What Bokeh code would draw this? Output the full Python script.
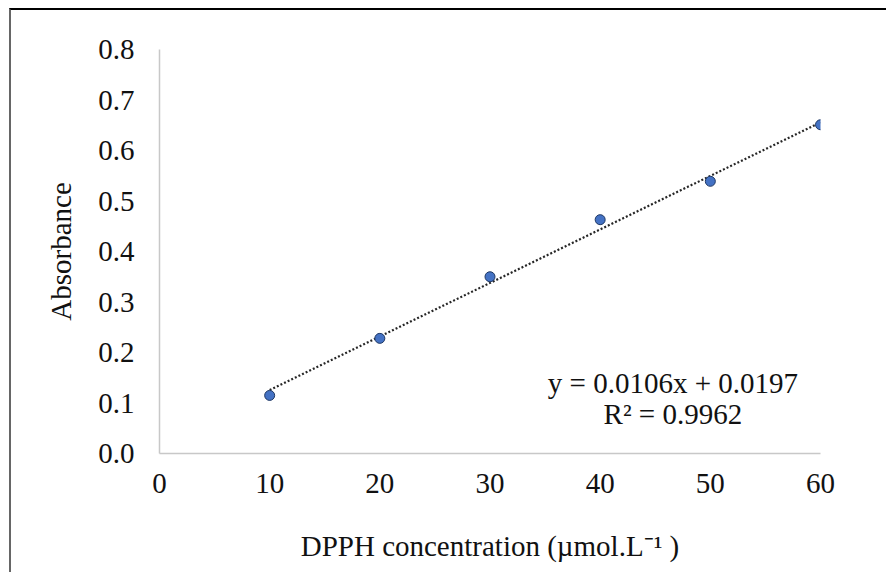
from bokeh.plotting import figure
from bokeh.models import Range1d, FixedTicker, Label, ColumnDataSource
from bokeh.embed import file_html
from bokeh.resources import INLINE

conc = [10, 20, 30, 40, 50, 60]
absorbance = [0.115, 0.228, 0.350, 0.463, 0.539, 0.651]
slope = 0.0106
intercept = 0.0197
x_ticks = [0, 10, 20, 30, 40, 50, 60]
y_ticks = [0.0, 0.1, 0.2, 0.3, 0.4, 0.5, 0.6, 0.7, 0.8]
eq_text = "y = 0.0106x + 0.0197"
r2_text = "R² = 0.9962"
x_title = "DPPH concentration (µmol.L⁻¹ )"
y_title = "Absorbance"

FONT = "Liberation Serif"
FS = "29px"

p = figure(width=877, height=564, output_backend="svg", toolbar_location=None,
           x_range=Range1d(0, 60), y_range=Range1d(0, 0.8),
           min_border_left=148, min_border_right=68, min_border_top=39, min_border_bottom=121)
p.outline_line_color = None
p.xgrid.visible = False
p.ygrid.visible = False
p.styles = {"border-top": "2px solid #000", "border-left": "2px solid #666",
            "margin-left": "9px", "margin-top": "8px"}

p.xaxis.ticker = FixedTicker(ticks=x_ticks)
p.yaxis.ticker = FixedTicker(ticks=y_ticks)
p.xaxis.major_label_overrides = {t: str(t) for t in x_ticks}
p.yaxis.major_label_overrides = {t: f"{t:.1f}" for t in y_ticks}
for ax in (p.xaxis, p.yaxis):
    ax.axis_line_color = "#c8c8c8"
    ax.axis_line_width = 1.5
    ax.major_tick_line_color = None
    ax.minor_tick_line_color = None
    ax.major_label_text_font = FONT
    ax.major_label_text_font_size = FS
    ax.major_label_text_color = "#111111"
    ax.axis_label_text_font = FONT
    ax.axis_label_text_font_size = FS
    ax.axis_label_text_font_style = "normal"
    ax.axis_label_text_color = "#111111"
p.xaxis.major_label_standoff = 14
p.yaxis.major_label_standoff = 19
p.xaxis.axis_label = x_title
p.yaxis.axis_label = y_title
p.xaxis.axis_label_standoff = 34
p.yaxis.axis_label_standoff = 18

tx = [conc[0], conc[-1]]
ty = [slope * x + intercept for x in tx]
p.line(tx, ty, line_color="#262626", line_width=2.2, line_dash="2 2")

src = ColumnDataSource(dict(x=conc, y=absorbance))
p.scatter("x", "y", source=src, size=10, fill_color="#4472C4", line_color="#1f3864", line_width=1)

p.add_layout(Label(x=46.6, y=0.139, text=eq_text, text_align="center", text_baseline="middle",
                   text_font=FONT, text_font_size=FS, text_color="#111111"))
p.add_layout(Label(x=46.6, y=0.079, text=r2_text, text_align="center", text_baseline="middle",
                   text_font=FONT, text_font_size=FS, text_color="#111111"))

open("out.html", "w").write(file_html(p, INLINE))
